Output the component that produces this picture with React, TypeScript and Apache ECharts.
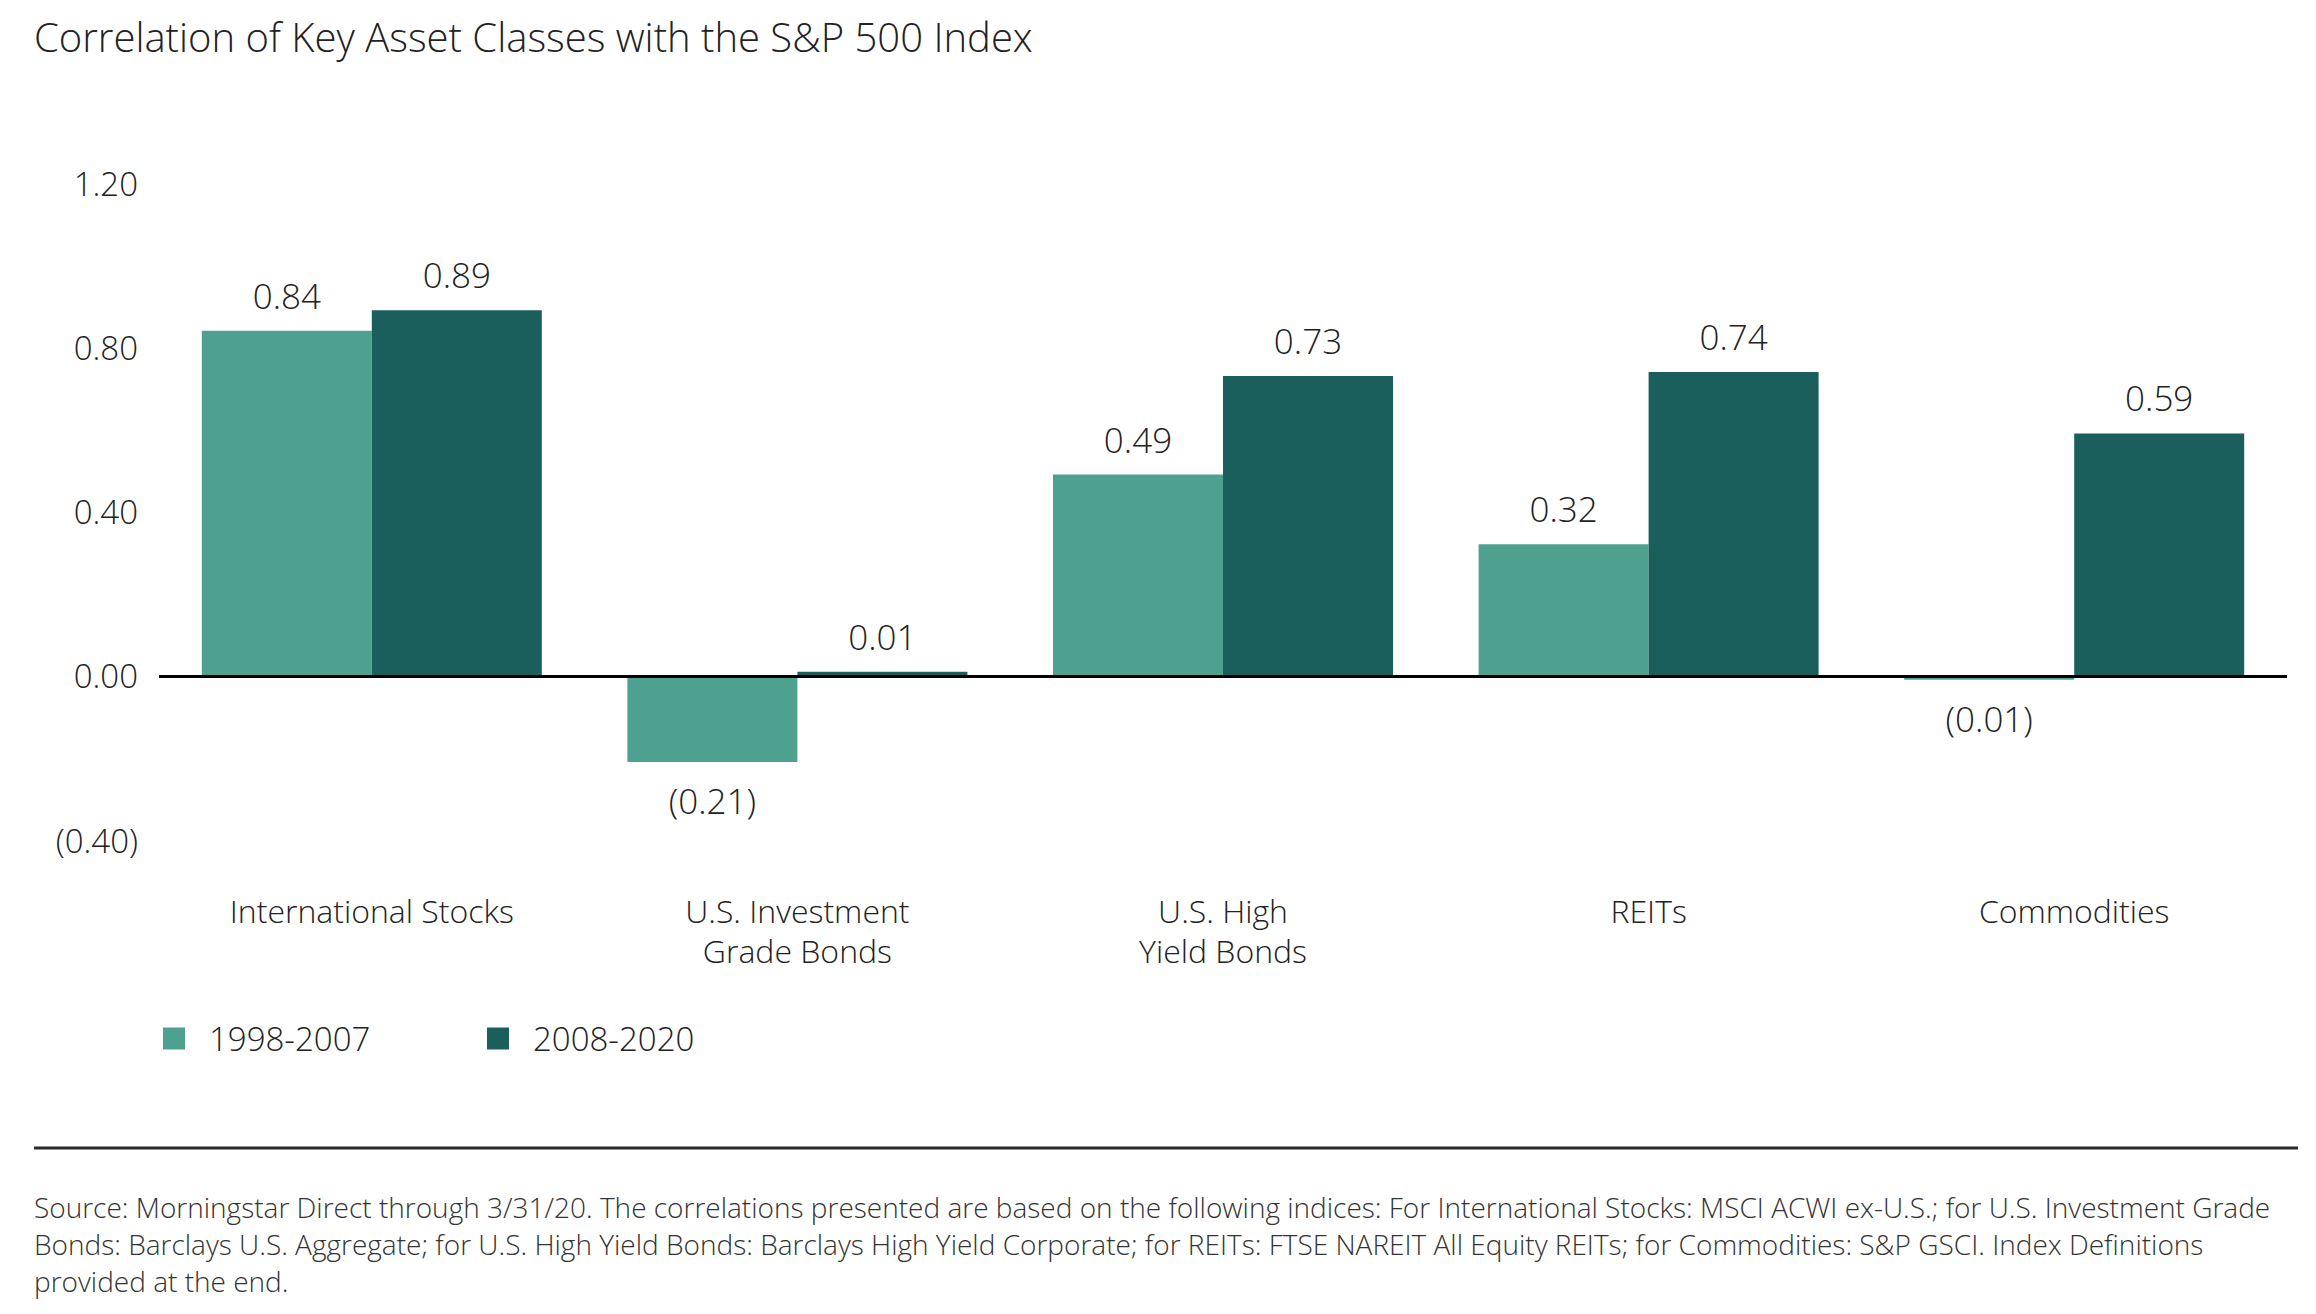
import React, { useEffect, useRef } from "react";
import * as echarts from "echarts";

const categories = [
  "International Stocks",
  "U.S. Investment\nGrade Bonds",
  "U.S. High\nYield Bonds",
  "REITs",
  "Commodities",
];
const seriesNames = ["1998-2007", "2008-2020"];
const values1998 = [0.84, -0.21, 0.49, 0.32, -0.01];
const values2008 = [0.89, 0.01, 0.73, 0.74, 0.59];
const yTicks = { min: -0.4, max: 1.2, interval: 0.4 };
const colors = ["#4ea18e", "#1b5f5d"];
const titleText = "Correlation of Key Asset Classes with the S&P 500 Index";
const sourceLines = [
  "Source: Morningstar Direct through 3/31/20. The correlations presented are based on the following indices: For International Stocks: MSCI ACWI ex-U.S.; for U.S. Investment Grade",
  "Bonds: Barclays U.S. Aggregate; for U.S. High Yield Bonds: Barclays High Yield Corporate; for REITs: FTSE NAREIT All Equity REITs; for Commodities: S&P GSCI. Index Definitions",
  "provided at the end.",
];

const FONT = "'Open Sans', 'Noto Sans', sans-serif";
const TEXT = "#222";

function fmt(v: number, digits: number) {
  const s = Math.abs(v).toFixed(digits);
  return v < 0 ? `(${s})` : s;
}

function buildData(vals: number[]) {
  return vals.map((v) => ({
    value: v,
    label: {
      position: v < 0 ? "bottom" : "top",
      distance: v < 0 ? 21 : 18,
    },
  }));
}

export default function App() {
  const ref = useRef<HTMLDivElement>(null);
  useEffect(() => {
    if (!ref.current) return;
    const chart = echarts.init(ref.current, undefined, { renderer: "svg" });
    const labelStyle = {
      show: true,
      fontFamily: FONT,
      fontWeight: 300,
      fontSize: 35,
      color: TEXT,
      formatter: (p: any) => fmt(p.value, 2),
    };
    const legendText = {
      fontFamily: FONT,
      fontWeight: 300,
      fontSize: 33,
      color: TEXT,
      padding: [0, 0, 0, 19],
    };
    chart.setOption({
      animation: false,
      backgroundColor: "#ffffff",
      title: {
        text: titleText,
        left: 34,
        top: 16,
        padding: 0,
        textStyle: { fontFamily: FONT, fontWeight: 300, fontSize: 40, color: TEXT },
      },
      legend: [
        {
          data: [seriesNames[0]],
          left: 163,
          top: 1022,
          padding: 0,
          icon: "rect",
          itemWidth: 22,
          itemHeight: 22,
          textStyle: legendText,
        },
        {
          data: [seriesNames[1]],
          left: 487,
          top: 1022,
          padding: 0,
          icon: "rect",
          itemWidth: 22,
          itemHeight: 22,
          textStyle: legendText,
        },
      ],
      grid: { left: 159, right: 29, top: 183, bottom: 1314 - 840, containLabel: false },
      xAxis: {
        type: "category",
        data: categories,
        axisLine: { show: false, onZero: false },
        axisTick: { show: false },
        axisLabel: {
          margin: 50,
          fontFamily: FONT,
          fontWeight: 300,
          fontSize: 32,
          lineHeight: 40,
          color: TEXT,
          interval: 0,
        },
      },
      yAxis: {
        type: "value",
        min: yTicks.min,
        max: yTicks.max,
        interval: yTicks.interval,
        splitLine: { show: false },
        axisLine: { show: false },
        axisTick: { show: false },
        axisLabel: {
          margin: 21,
          fontFamily: FONT,
          fontWeight: 300,
          fontSize: 33,
          color: TEXT,
          formatter: (v: number) => fmt(v, 2),
        },
      },
      series: [
        {
          name: seriesNames[0],
          type: "bar",
          data: buildData(values1998),
          barWidth: 170,
          barGap: "0%",
          itemStyle: { color: colors[0] },
          label: labelStyle,
          markLine: {
            silent: true,
            symbol: ["none", "none"],
            label: { show: false },
            lineStyle: { color: "#000", width: 3, type: "solid" },
            data: [{ yAxis: 0 }],
            z: 10,
          },
        },
        {
          name: seriesNames[1],
          type: "bar",
          data: buildData(values2008),
          barWidth: 170,
          barGap: "0%",
          itemStyle: { color: colors[1] },
          label: labelStyle,
        },
      ],
      graphic: [
        {
          type: "line",
          shape: { x1: 34, y1: 1148, x2: 2298, y2: 1148 },
          style: { stroke: "#2a2a2a", lineWidth: 3 },
        },
        {
          type: "text",
          x: 34,
          y: 1188,
          style: {
            text: sourceLines.join("\n"),
            fontFamily: FONT,
            fontWeight: 300,
            fontSize: 28,
            lineHeight: 37,
            fill: "#333",
            textVerticalAlign: "top",
          },
        },
      ],
    });
    return () => chart.dispose();
  }, []);
  return (
    <div
      ref={ref}
      style={{ position: "fixed", left: 0, top: 0, width: 2316, height: 1314, background: "#fff" }}
    />
  );
}
